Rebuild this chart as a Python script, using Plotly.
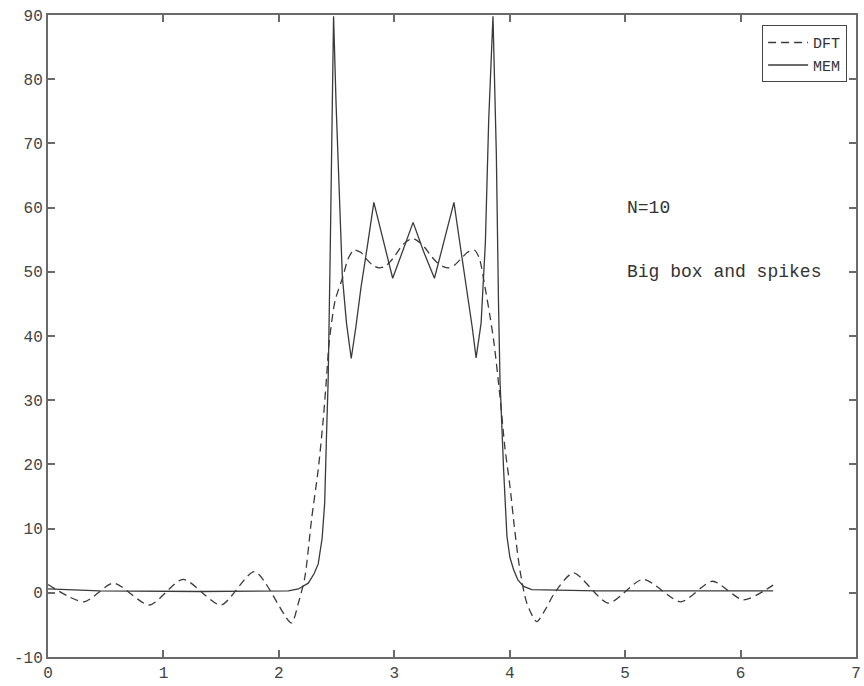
import plotly.graph_objects as go

# DFT reconstruction (N=10) of the box-and-spikes spectrum
dft_x = [0.000, 0.310, 0.568, 0.878, 1.170, 1.497, 1.790, 2.108, 2.169, 2.226,
         2.283, 2.341, 2.384, 2.412, 2.435, 2.487, 2.556, 2.599, 2.651, 2.711,
         2.763, 2.814, 2.866, 2.917, 2.960, 3.003, 3.072, 3.158, 3.244, 3.322,
         3.373, 3.425, 3.468, 3.520, 3.571, 3.632, 3.692, 3.735, 3.787, 3.830,
         3.864, 3.916, 3.959, 4.002, 4.045, 4.088, 4.148, 4.234, 4.312, 4.389,
         4.552, 4.854, 5.155, 5.482, 5.757, 6.024, 6.282]
dft_y = [1.3, -1.4, 1.5, -1.9, 2.1, -1.9, 3.3, -4.7, -1.6, 2.5,
         11.4, 19.2, 26.9, 33.2, 38.9, 45.5, 49.3, 52.0, 53.4, 53.0,
         51.9, 51.0, 50.6, 50.8, 51.5, 52.4, 54.2, 55.2, 54.2, 52.4,
         51.4, 50.8, 50.6, 51.0, 51.9, 53.0, 53.4, 52.2, 47.5, 43.0,
         38.9, 30.5, 22.5, 16.6, 9.5, 3.6, -1.6, -4.5, -2.5, 0.0,
         3.1, -1.6, 2.1, -1.4, 1.8, -1.1, 1.2]

# Maximum-entropy (MEM) estimate
mem_x = [0.000, 0.447, 1.308, 2.083, 2.169, 2.255, 2.306, 2.341, 2.375, 2.397,
         2.412, 2.427, 2.444, 2.457, 2.474, 2.496, 2.519, 2.550, 2.586, 2.627,
         2.668, 2.711, 2.771, 2.823, 2.866, 2.909, 2.986, 3.072, 3.163, 3.253,
         3.348, 3.417, 3.477, 3.517, 3.571, 3.632, 3.675, 3.709, 3.752, 3.789,
         3.818, 3.855, 3.884, 3.903, 3.916, 3.947, 3.976, 4.002, 4.034, 4.071,
         4.120, 4.191, 4.750, 5.611, 6.282]
mem_y = [0.6, 0.3, 0.2, 0.3, 0.6, 1.5, 3.0, 4.5, 8.5, 14.0,
         24.0, 33.0, 52.0, 68.0, 89.8, 76.0, 63.3, 49.3, 42.0, 36.5,
         41.5, 47.5, 54.5, 60.8, 57.7, 54.6, 49.0, 53.2, 57.7, 53.2,
         49.0, 53.8, 57.9, 60.8, 54.1, 46.8, 41.4, 36.6, 42.0, 54.5,
         73.7, 89.8, 68.5, 45.0, 33.0, 19.2, 8.8, 5.5, 3.6, 2.0,
         1.0, 0.5, 0.3, 0.3, 0.3]

x_ticks = [0, 1, 2, 3, 4, 5, 6, 7]
y_ticks = [-10, 0, 10, 20, 30, 40, 50, 60, 70, 80, 90]

line_color = "#3a3a3a"
axis_color = "#6a6a6a"
mono = "Liberation Mono"

fig = go.Figure()
fig.add_trace(go.Scatter(
    x=dft_x, y=dft_y, mode="lines", name="DFT",
    line=dict(color=line_color, width=1.3, dash="8px,5px",
              shape="spline", smoothing=0.7),
))
fig.add_trace(go.Scatter(
    x=mem_x, y=mem_y, mode="lines", name="MEM",
    line=dict(color=line_color, width=1.3),
))

fig.add_annotation(x=5.0, y=60, text="N=10", showarrow=False,
                   xanchor="left", yanchor="middle",
                   font=dict(family=mono, size=18, color="#333"))
fig.add_annotation(x=5.0, y=50, text="Big box and spikes", showarrow=False,
                   xanchor="left", yanchor="middle",
                   font=dict(family=mono, size=18, color="#333"))

axis_common = dict(
    showline=True, linecolor=axis_color, linewidth=2, mirror="ticks",
    ticks="inside", ticklen=7, tickwidth=1.5, tickcolor=axis_color,
    showgrid=False, zeroline=False,
    tickfont=dict(family=mono, size=16, color="#444"),
)

fig.update_layout(
    width=864, height=686,
    margin=dict(l=48, r=3, t=15, b=29),
    paper_bgcolor="white", plot_bgcolor="white",
    xaxis=dict(range=[0, 7], tickvals=x_ticks,
               ticktext=[str(v) for v in x_ticks], **axis_common),
    yaxis=dict(range=[-10, 90], tickvals=y_ticks,
               ticktext=[str(v) for v in y_ticks], **axis_common),
    legend=dict(x=0.989, y=0.984, xanchor="right", yanchor="top",
                bgcolor="white", bordercolor="#444", borderwidth=1,
                font=dict(family=mono, size=15, color="#333"),
                itemwidth=40, tracegroupgap=0),
    showlegend=True,
)

fig.write_html("out.html")
